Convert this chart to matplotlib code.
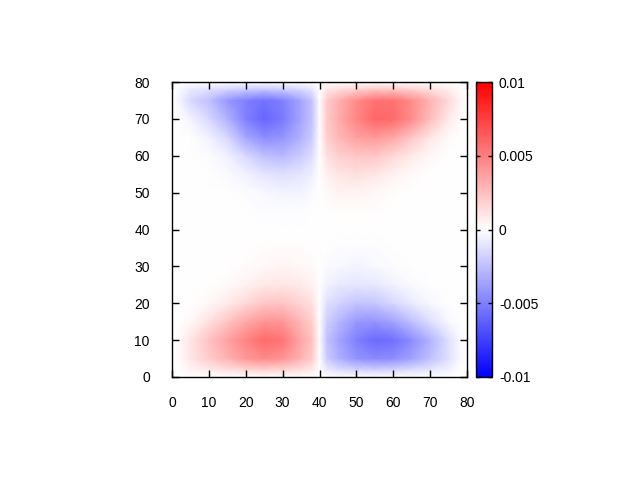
import numpy as np
import matplotlib
matplotlib.use('Agg')
import matplotlib.pyplot as plt
from matplotlib.colors import LinearSegmentedColormap

plt.rcParams['font.family'] = ['Liberation Sans', 'DejaVu Sans']
plt.rcParams['font.size'] = 10

# grid nodes
xs = [0, 2, 5, 10, 15, 20, 25, 30, 35, 38, 40, 42, 45, 50, 55, 60, 65, 70, 75, 78, 80]
ys = [0, 2, 5, 10, 15, 20, 25, 30, 35, 40, 45, 50, 55, 60, 65, 70, 75, 78, 80]

# values, one row per y node (bottom to top)
z = [
    [0] * 21,
    [0, 0, .0004, .0008, .0012, .0016, .0018, .0017, .0013, .0008, 0, -.0008, -.0013, -.0017, -.0018, -.0017, -.0014, -.0010, -.0005, 0, 0],
    [0, .0002, .0010, .0020, .0030, .0040, .0046, .0042, .0030, .0020, 0, -.0020, -.0030, -.0042, -.0046, -.0044, -.0036, -.0025, -.0012, -.0003, 0],
    [0, .0002, .0010, .0024, .0036, .0048, .0058, .0054, .0035, .0024, 0, -.0024, -.0035, -.0050, -.0058, -.0056, -.0045, -.0030, -.0012, -.0003, 0],
    [0, 0, .0003, .0012, .0023, .0034, .0042, .0041, .0028, .0019, 0, -.0019, -.0028, -.0040, -.0042, -.0036, -.0025, -.0013, -.0003, 0, 0],
    [0, 0, 0, .0003, .0008, .0015, .0022, .0023, .0017, .0012, 0, -.0012, -.0017, -.0023, -.0022, -.0015, -.0008, -.0003, 0, 0, 0],
    [0, 0, 0, 0, .0002, .0005, .0009, .0010, .0008, .0005, 0, -.0005, -.0008, -.0010, -.0009, -.0005, -.0002, 0, 0, 0, 0],
    [0, 0, 0, 0, 0, .0001, .0003, .0004, .0003, .0002, 0, -.0002, -.0003, -.0004, -.0003, -.0001, 0, 0, 0, 0, 0],
    [0, 0, 0, 0, 0, 0, .0001, .0001, .0001, 0, 0, 0, -.0001, -.0001, -.0001, 0, 0, 0, 0, 0, 0],
    [0] * 21,
    [0, 0, 0, 0, 0, 0, -.0001, -.0001, -.0001, 0, 0, 0, .0001, .0001, .0001, 0, 0, 0, 0, 0, 0],
    [0, 0, 0, 0, 0, -.0001, -.0003, -.0004, -.0004, -.0002, 0, .0002, .0004, .0004, .0003, .0001, 0, 0, 0, 0, 0],
    [0, 0, 0, 0, -.0002, -.0005, -.0010, -.0012, -.0010, -.0006, 0, .0006, .0010, .0012, .0010, .0005, .0002, 0, 0, 0, 0],
    [0, 0, 0, -.0001, -.0005, -.0015, -.0025, -.0028, -.0020, -.0013, 0, .0012, .0018, .0022, .0022, .0015, .0008, .0003, 0, 0, 0],
    [0, 0, 0, -.0005, -.0015, -.0035, -.0045, -.0042, -.0030, -.0020, 0, .0019, .0028, .0037, .0040, .0035, .0022, .0010, .0002, 0, 0],
    [0, 0, -.0004, -.0015, -.0030, -.0050, -.0060, -.0052, -.0035, -.0023, 0, .0021, .0032, .0047, .0060, .0058, .0045, .0026, .0008, .0002, 0],
    [0, -.0004, -.0015, -.0025, -.0040, -.0050, -.0055, -.0050, -.0035, -.0023, 0, .0020, .0030, .0045, .0055, .0055, .0045, .0030, .0015, .0004, 0],
    [0, -.0002, -.0008, -.0012, -.0017, -.0020, -.0022, -.0020, -.0015, -.0010, 0, .0010, .0013, .0018, .0022, .0022, .0018, .0013, .0007, .0002, 0],
    [0] * 21,
]
cb_ticks = [-0.01, -0.005, 0, 0.005, 0.01]
cb_labels = ['-0.01', '-0.005', '0', '0.005', '0.01']

cmap = LinearSegmentedColormap.from_list('bwr2', [(0, 0, 1), (1, 1, 1), (1, 0, 0)])

fig = plt.figure(figsize=(6.4, 4.8), dpi=100)
ax = fig.add_axes([172/640, 103/480, 295/640, 295/480])
cax = fig.add_axes([476/640, 103/480, 16/640, 295/480])

mesh = ax.pcolormesh(np.array(xs), np.array(ys), np.array(z), cmap=cmap,
                     vmin=-0.01, vmax=0.01, shading='gouraud')
ax.set_xlim(0, 80)
ax.set_ylim(0, 80)
ax.set_xticks(range(0, 81, 10))
ax.set_yticks(range(0, 81, 10))
ax.tick_params(direction='in', length=5, width=1, top=True, right=True, colors='black')
ax.tick_params(axis='y', pad=16)
ax.tick_params(axis='x', pad=14)
for s in ax.spines.values():
    s.set_linewidth(1)

cb = fig.colorbar(mesh, cax=cax)
cb.set_ticks(cb_ticks)
cb.set_ticklabels(cb_labels)
cb.outline.set_linewidth(1)
cax.tick_params(axis='y', direction='in', length=3, width=1, left=True, right=True, pad=5)

fig.savefig('out.png', dpi=100)
